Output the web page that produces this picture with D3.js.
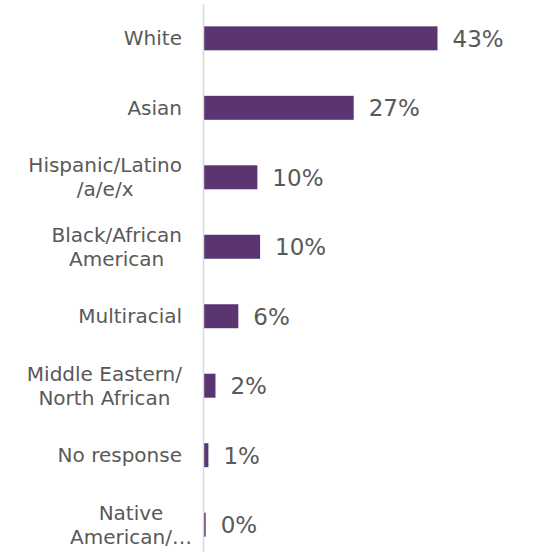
<!DOCTYPE html>
<html>
<head>
<meta charset="utf-8">
<script src="https://cdn.jsdelivr.net/npm/d3@7"></script>
<style>
  html, body { margin: 0; padding: 0; background: #fff; }
  svg { display: block; font-family: "DejaVu Sans", sans-serif; }
</style>
</head>
<body>
<div id="chart"></div>
<script>
// categories, top to bottom (wrapped the way the original wraps them)
const categories = [
    ["White"],
    ["Asian"],
    ["Hispanic/Latino", "/a/e/x"],
    ["Black/African", "American"],
    ["Multiracial"],
    ["Middle Eastern/", "North African"],
    ["No response"],
    ["Native", "American/\u2026"]
];
// percent of respondents
const values = [43, 27.6, 9.9, 10.4, 6.4, 2.2, 0.9, 0.4];
const valueLabels = ["43%", "27%", "10%", "10%", "6%", "2%", "1%", "0%"];

const width = 533, height = 552;
const axisX = 203.5;

const svg = d3.select("#chart")
    .append("svg")
    .attr("width", width)
    .attr("height", height);

const x = d3.scaleLinear()
    .domain([0, 43])
    .range([axisX, 437.5]);

const y = d3.scaleBand()
    .domain(d3.range(categories.length))
    .range([3.6, 559.4])
    .paddingInner(0.655)
    .paddingOuter(0.3275);

// bars
svg.append("g")
    .selectAll("rect")
    .data(values)
    .enter()
    .append("rect")
    .attr("x", x(0))
    .attr("y", (d, i) => y(i))
    .attr("width", (d) => x(d) - x(0))
    .attr("height", y.bandwidth())
    .attr("fill", "#5a3571");

// vertical axis line
svg.append("line")
    .attr("x1", axisX)
    .attr("x2", axisX)
    .attr("y1", 4)
    .attr("y2", height)
    .attr("stroke", "#d9d9d9")
    .attr("stroke-width", 1.5);

// category labels: lines centred on each other, block right aligned
const labelRight = 182;
const lineH = 24;
const labels = svg.append("g")
    .attr("fill", "#595959")
    .attr("font-size", 20);

categories.forEach(function (lines, i) {
    const cy = y(i) + y.bandwidth() / 2;
    const g = labels.append("g");
    const texts = g.selectAll("text")
        .data(lines)
        .enter()
        .append("text")
        .attr("text-anchor", "middle")
        .attr("y", (d, j) => cy + 7 + (j - (lines.length - 1) / 2) * lineH)
        .text((d) => d);
    // measure widths (ignore a trailing ellipsis, it overflows like the original)
    let w = 0;
    texts.each(function (d) {
        let len = this.getComputedTextLength();
        if (d.endsWith("\u2026")) {
            const tmp = g.append("text").text(d.slice(0, -1));
            len = tmp.node().getComputedTextLength();
            tmp.remove();
        }
        w = Math.max(w, len);
    });
    texts.attr("x", labelRight - w / 2);
});

// value labels
svg.append("g")
    .selectAll("text")
    .data(values)
    .enter()
    .append("text")
    .attr("x", (d) => x(d) + 15)
    .attr("y", (d, i) => y(i) + y.bandwidth() / 2 + 8.5)
    .attr("fill", "#595959")
    .attr("font-size", 23)
    .text((d, i) => valueLabels[i]);
</script>
</body>
</html>
